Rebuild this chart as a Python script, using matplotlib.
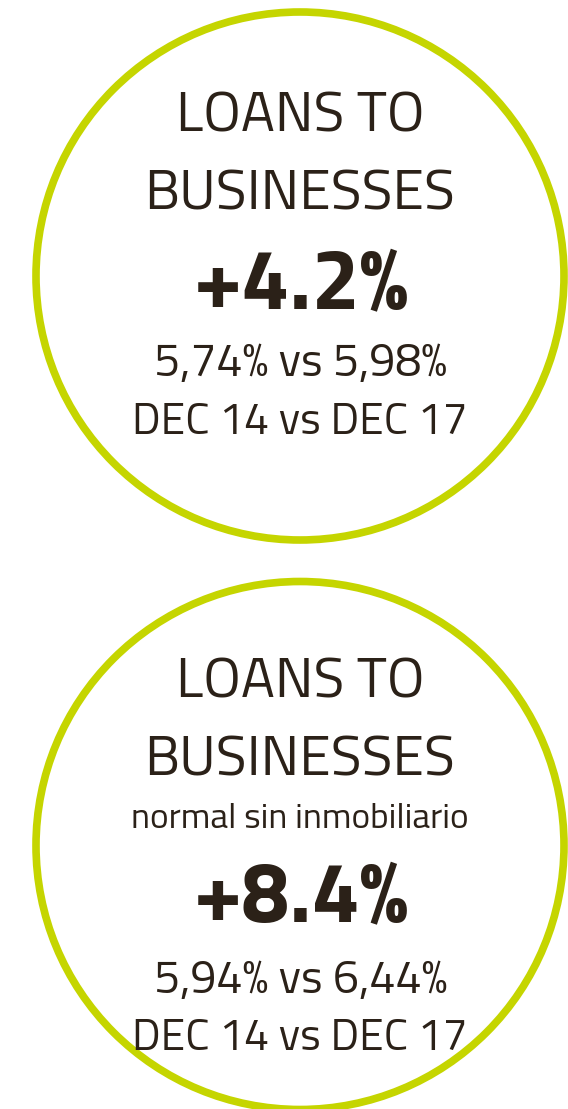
import matplotlib
matplotlib.use('Agg')
import matplotlib.pyplot as plt
from matplotlib.patches import Circle

# data
titles = ['LOANS TO\nBUSINESSES', 'LOANS TO\nBUSINESSES']
notes = ['', 'normal sin inmobiliario']
growth = ['+4.2%', '+8.4%']
rates = ['5,74% vs 5,98%', '5,94% vs 6,44%']
periods = ['DEC 14 vs DEC 17', 'DEC 14 vs DEC 17']

green = '#c5d500'
ink = '#2b2118'
fam = ['Titillium Web', 'Saira SemiCondensed', 'Roboto Condensed', 'DejaVu Sans']

fig = plt.figure(figsize=(5.68, 11.09), dpi=100)
ax = fig.add_axes([0, 0, 1, 1])
ax.set_xlim(0, 568)
ax.set_ylim(1109, 0)
ax.axis('off')

centers = [276, 845.5]
for i, cy in enumerate(centers):
    ax.add_patch(Circle((300, cy), 264, fill=False, ec=green, lw=5.5))
    l1, l2 = titles[i].split('\n')
    if notes[i]:
        ys = [697, 776, 828, 922, 993, 1050]
    else:
        ys = [131, 209, None, 309, 376, 434]
    ax.text(300, ys[0], l1, ha='center', va='baseline', fontsize=41,
            family=fam, color=ink)
    ax.text(300, ys[1], l2, ha='center', va='baseline', fontsize=41,
            family=fam, color=ink)
    if notes[i]:
        ax.text(300, ys[2], notes[i], ha='center', va='baseline', fontsize=25.5,
                family=fam, color=ink)
    ax.text(301, ys[3], growth[i], ha='center', va='baseline', fontsize=62,
            family=fam, weight='bold', color=ink)
    ax.text(301, ys[4], rates[i], ha='center', va='baseline', fontsize=33.5,
            family=fam, color=ink)
    ax.text(300, ys[5], periods[i], ha='center', va='baseline', fontsize=32,
            family=fam, color=ink)

fig.savefig('out.png', dpi=100)
